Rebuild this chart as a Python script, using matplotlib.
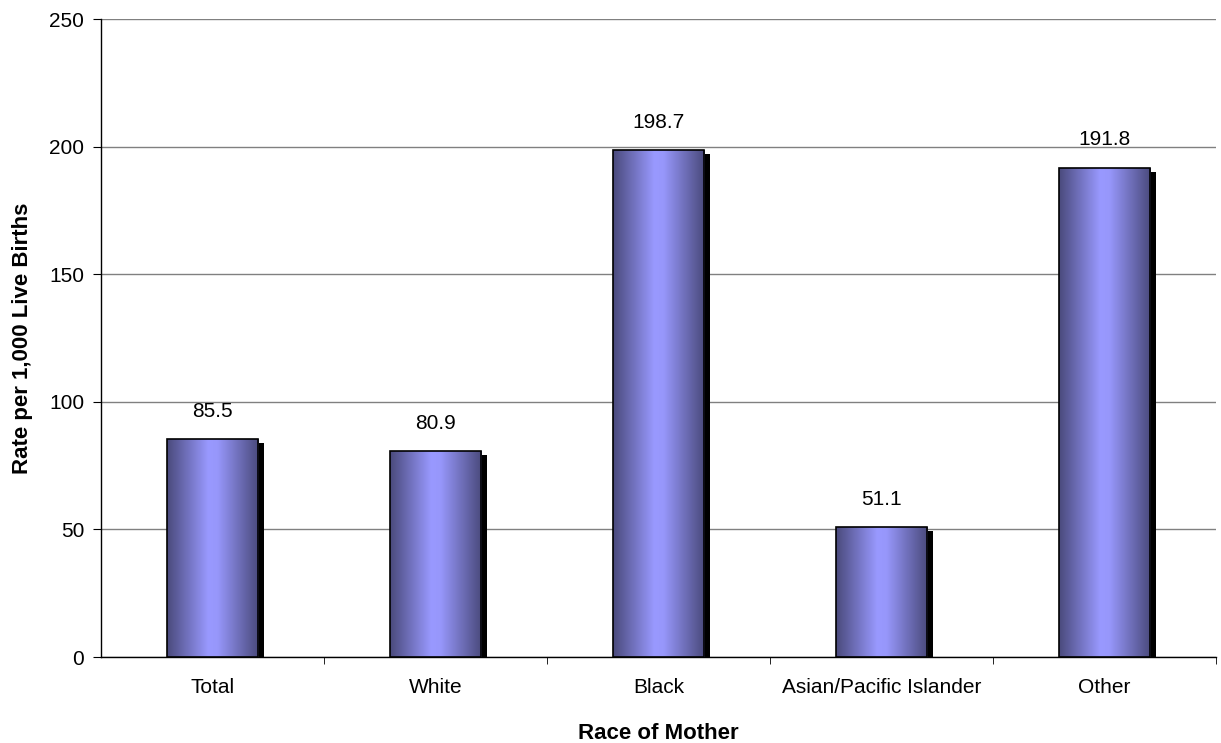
import matplotlib.pyplot as plt
import numpy as np
from matplotlib.colors import LinearSegmentedColormap
import matplotlib.transforms as mtransforms

# data
races = ["Total", "White", "Black", "Asian/Pacific Islander", "Other"]
rates = [85.5, 80.9, 198.7, 51.1, 191.8]

plt.rcParams['font.family'] = ['Liberation Sans', 'DejaVu Sans']

fig = plt.figure(figsize=(12.21, 7.43), dpi=100)
ax = fig.add_axes([0.0827, 0.1157, 0.9132, 0.8587])

x = np.arange(len(races))
width = 0.41

# cylinder-like horizontal gradient
cmap = LinearSegmentedColormap.from_list(
    'cyl', [(0, '#4a4a7c'), (0.45, '#9999ff'), (0.55, '#9797fb'), (1, '#4a4a7c')])
grad = np.linspace(0, 1, 256).reshape(1, -1)

# shadow first
shadow_tr = mtransforms.offset_copy(ax.transData, fig=fig, x=4.5, y=-3, units='points')
ax.bar(x, rates, width=width, color='black', transform=shadow_tr, zorder=2)

bars = ax.bar(x, rates, width=width, color='none', edgecolor='black', linewidth=1.2, zorder=4)
for b in bars:
    x0, y0 = b.get_x(), b.get_y()
    im = ax.imshow(grad, cmap=cmap, aspect='auto', extent=[x0, x0 + b.get_width(), y0, y0 + b.get_height()],
                   zorder=3, interpolation='bicubic')
    im.set_clip_path(b)

for xi, v in zip(x, rates):
    ax.annotate(f"{v}", (xi, v), xytext=(0, 13), textcoords='offset points',
                ha='center', va='bottom', fontsize=15)

ax.set_xlim(-0.5, len(races) - 0.5)
ax.set_ylim(0, 250)
ax.set_yticks(np.arange(0, 251, 50))
ax.grid(axis='y', color='#808080', linewidth=1)
ax.set_axisbelow(True)

ax.set_xticks(x)
ax.set_xticklabels(races, fontsize=15)
ax.tick_params(axis='x', length=0, pad=15)
ax.set_xticks(np.arange(0.5, len(races), 1), minor=True)
ax.tick_params(axis='x', which='minor', length=5, direction='out')
ax.tick_params(axis='y', labelsize=15, length=6, direction='out', pad=6)

for s in ['top', 'right']:
    ax.spines[s].set_visible(False)
ax.spines['left'].set_linewidth(1)
ax.spines['bottom'].set_linewidth(1)

ax.set_xlabel('Race of Mother', fontsize=16, fontweight='bold', labelpad=19)
ax.set_ylabel('Rate per 1,000 Live Births', fontsize=16, fontweight='bold', labelpad=12)

fig.savefig('out.png', dpi=100)
